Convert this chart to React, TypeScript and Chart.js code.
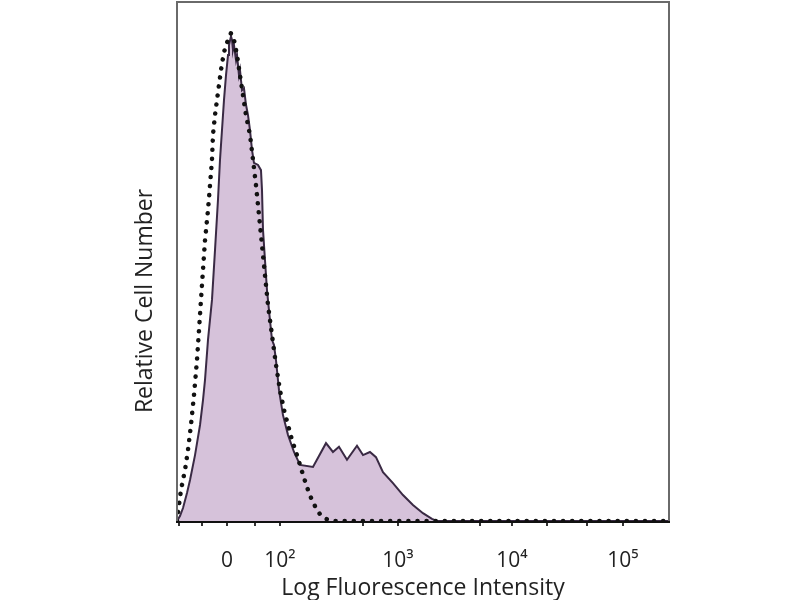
import React, { useEffect, useRef } from 'react';
import { Chart, registerables } from 'chart.js';

Chart.register(...registerables);

// Stained sample (filled histogram), channel units 0-1024, relative counts 0-100
const stainedChannel = [
  0, 6.2, 12.5, 20.8, 27.1, 37.5, 47.9, 54.1, 58.3, 64.5, 72.8, 79.1, 85.3, 89.5, 93.6, 97.8,
  102.0, 106.2, 108.2, 112.4, 114.5, 116.5, 118.6, 122.8, 124.9, 129.0, 131.1, 135.3, 139.4,
  143.6, 147.8, 151.9, 156.1, 160.2, 168.6, 174.8, 176.9, 179.0, 183.1, 187.3, 193.5, 197.7,
  201.9, 206.0, 212.3, 220.6, 231.0, 243.5, 256.0, 283.0, 310.1, 324.6, 337.1, 353.8, 374.6,
  387.1, 401.6, 414.1, 428.7, 449.5, 470.3, 491.1, 511.9, 530.7, 541.1, 700, 1024,
];
const stainedCount = [
  0, 0.96, 2.5, 5.4, 7.9, 12.7, 18.5, 23.3, 27.2, 34.9, 42.6, 52.2, 61.9, 69.6, 75.3, 81.1,
  85.9, 89.8, 91.7, 93.4, 92.7, 90.8, 91.7, 88.8, 89.8, 85.9, 86.9, 83.0, 83.4,
  80.2, 78.2, 75.3, 71.5, 69.0, 68.6, 67.6, 63.8, 56.1, 50.3, 44.5, 38.7, 34.9,
  33.9, 31.0, 25.2, 20.4, 16.6, 13.3, 10.8, 10.4, 15.0, 13.3, 14.3, 11.8, 14.5,
  12.7, 13.3, 12.3, 9.4, 7.3, 5.0, 3.1, 1.5, 0.4, 0, 0, 0,
];

// Isotype control (dotted outline)
const isotypeChannel = [
  0, 4.2, 8.3, 16.6, 22.9, 29.1, 35.4, 41.6, 45.8, 49.9, 54.1, 58.3, 64.5, 68.7, 72.8, 74.9,
  79.1, 83.2, 87.4, 91.6, 95.7, 99.9, 106.2, 112.4, 118.6, 124.9, 131.1, 137.3, 143.6, 151.9,
  158.2, 164.4, 170.6, 176.9, 183.1, 189.4, 197.7, 206.0, 214.3, 222.7, 231.0, 239.3, 247.6,
  256.0, 264.3, 272.6, 280.9, 289.3, 297.6, 310.1, 326.7, 700, 1024,
];
const isotypeCount = [
  0, 3.1, 6.0, 9.8, 13.7, 18.5, 24.3, 31.0, 36.8, 42.6, 48.4, 54.1, 59.9, 64.7, 69.6, 74.4,
  78.2, 81.1, 84.0, 86.9, 89.2, 91.1, 92.7, 94.0, 92.7, 89.8, 85.9, 82.1, 78.2, 74.4,
  69.6, 64.7, 59.0, 53.2, 47.4, 41.6, 35.8, 30.1, 25.2, 21.4, 18.5, 15.6, 13.3,
  10.8, 8.3, 6.0, 4.0, 2.5, 1.3, 0.4, 0, 0, 0,
];

// Axis ticks (channel positions) and their labels; minor ticks have empty labels
const tickChannels = [4.2, 52.0, 104, 162.3, 214.3, 387.1, 459.9, 630.5, 697.1, 770.0, 853.2, 928.1];
const tickLabels = ['', '', '0', '', '10²', '', '10³', '', '10⁴', '', '', '10⁵'];

const xTitle = 'Log Fluorescence Intensity';
const yTitle = 'Relative Cell Number';

const FONT = '"Open Sans", "DejaVu Sans", sans-serif';

export default function App() {
  const ref = useRef<HTMLCanvasElement | null>(null);

  useEffect(() => {
    if (!ref.current) return;

    const framePlugin = {
      id: 'frame',
      afterDatasetsDraw(chart: any) {
        const { ctx, chartArea } = chart;
        ctx.save();
        ctx.strokeStyle = '#6a6a6a';
        ctx.lineWidth = 2;
        ctx.beginPath();
        ctx.moveTo(chartArea.left, chartArea.bottom);
        ctx.lineTo(chartArea.left, chartArea.top);
        ctx.lineTo(chartArea.right, chartArea.top);
        ctx.lineTo(chartArea.right, chartArea.bottom);
        ctx.stroke();
        ctx.restore();
      },
      afterDraw(chart: any) {
        const { ctx } = chart;
        ctx.save();
        ctx.translate(145, 301);
        ctx.rotate(-Math.PI / 2);
        ctx.fillStyle = '#222222';
        ctx.font = `23px ${FONT}`;
        ctx.textAlign = 'center';
        ctx.textBaseline = 'middle';
        ctx.fillText(yTitle, 0, 0);
        ctx.restore();
      },
    };

    const chart = new Chart(ref.current, {
      type: 'scatter',
      data: {
        datasets: [
          {
            label: 'Isotype',
            data: isotypeChannel.map((x, i) => ({ x, y: isotypeCount[i] })),
            showLine: true,
            fill: false,
            borderColor: '#111111',
            borderWidth: 4.5,
            borderDash: [0.1, 9],
            borderCapStyle: 'round',
            pointRadius: 0,
            tension: 0,
          },
          {
            label: 'Stained',
            data: stainedChannel.map((x, i) => ({ x, y: stainedCount[i] })),
            showLine: true,
            fill: 'origin',
            backgroundColor: '#d6c2da',
            borderColor: '#3a2a44',
            borderWidth: 2,
            pointRadius: 0,
            tension: 0,
          },
        ],
      },
      options: {
        animation: false,
        responsive: true,
        maintainAspectRatio: false,
        layout: { padding: { top: 2, right: 131, bottom: 0, left: 0 } },
        plugins: { legend: { display: false }, tooltip: { enabled: false } },
        scales: {
          x: {
            type: 'linear',
            min: 0,
            max: 1024,
            afterBuildTicks: (scale: any) => {
              scale.ticks = tickChannels.map((v) => ({ value: v }));
            },
            afterFit: (scale: any) => {
              scale.height = 79;
            },
            ticks: {
              autoSkip: false,
              maxRotation: 0,
              padding: 22,
              color: '#222222',
              font: { size: 21, family: FONT },
              callback: (_v: any, i: number) => tickLabels[i],
            },
            grid: {
              display: true,
              drawOnChartArea: false,
              drawTicks: true,
              tickLength: 5,
              color: '#333333',
              lineWidth: 2,
            },
            border: { display: true, color: '#111111', width: 3 },
            title: {
              display: true,
              text: xTitle,
              color: '#222222',
              font: { size: 23, family: FONT, lineHeight: 1.0 },
              padding: { top: 0, bottom: 0 },
            },
          },
          y: {
            type: 'linear',
            min: 0,
            max: 100,
            afterFit: (scale: any) => {
              scale.width = 177;
            },
            ticks: { display: false },
            grid: { display: false },
            border: { display: false },
          },
        },
      },
      plugins: [framePlugin],
    } as any);

    return () => chart.destroy();
  }, []);

  return (
    <div style={{ position: 'fixed', left: 0, top: 0, width: 800, height: 600, background: '#fff' }}>
      <canvas ref={ref} />
    </div>
  );
}
